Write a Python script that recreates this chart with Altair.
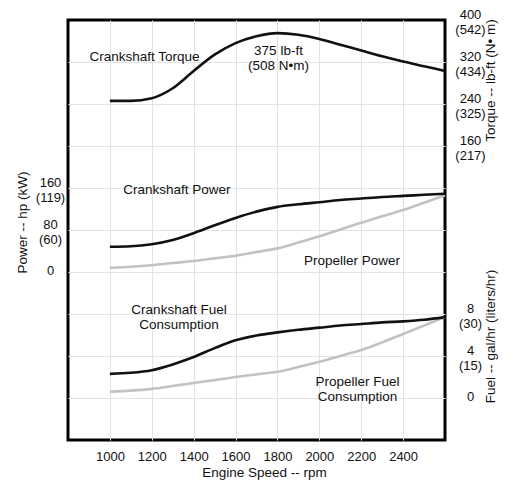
import altair as alt
import pandas as pd

# ---- data ----
rpm = [1000, 1100, 1200, 1300, 1400, 1500, 1600, 1700, 1800,
       1900, 2000, 2100, 2200, 2300, 2400, 2500, 2600]
torque_lbft = [246, 246, 251, 270, 303, 334, 356, 369, 375,
               372, 364, 353, 342, 331, 321, 312, 303]
crank_power_hp = [48, 49, 53, 61, 74, 89, 103, 115, 124,
                  129, 133, 137, 140, 143, 145, 147, 149]
prop_power_hp = [8, 10, 13, 17, 21, 26, 31, 38, 45,
                 56, 68, 81, 94, 106, 118, 132, 146]
crank_fuel_gph = [2.3, 2.4, 2.65, 3.2, 3.9, 4.75, 5.5, 5.95, 6.25,
                  6.5, 6.7, 6.9, 7.05, 7.2, 7.3, 7.45, 7.7]
prop_fuel_gph = [0.6, 0.7, 0.87, 1.15, 1.43, 1.7, 2.0, 2.25, 2.5,
                 2.95, 3.45, 4.0, 4.57, 5.3, 6.1, 6.9, 7.7]

x_ticks = [1000, 1200, 1400, 1600, 1800, 2000, 2200, 2400]
power_ticks = [0, 80, 160]
power_ticks_kw = ["", "(60)", "(119)"]
power_grid = [-240, -160, -80, 0, 80, 160, 240, 320, 400]
torque_ticks = [160, 240, 320, 400]
torque_ticks_nm = ["(217)", "(325)", "(434)", "(542)"]
fuel_ticks = [0, 4, 8]
fuel_ticks_l = ["", "(15)", "(30)"]

# annotations (data coordinates of the first text line)
torque_notes = ["Crankshaft Torque", "375 lb-ft\n(508 N\u2022m)"]
torque_notes_rpm = [1165, 1805]
torque_notes_val = [330, 341]
power_notes = ["Crankshaft Power", "Propeller Power"]
power_notes_rpm = [1320, 2156]
power_notes_val = [156, 21]
fuel_notes = ["Crankshaft Fuel\nConsumption", "Propeller Fuel\nConsumption"]
fuel_notes_rpm = [1330, 2182]
fuel_notes_val = [8.4, 1.5]

FONT = "Liberation Sans"
SERIES = ["Crankshaft", "Propeller"]
COLORS = ["#111111", "#c2c2c2"]


def label_expr(vals, subs):
    expr = "''"
    for v, s in zip(vals, subs):
        lab = f"['{v}','{s}']" if s else f"'{v}'"
        expr = f"datum.value == {v} ? {lab} : ({expr})"
    return expr


n = len(rpm)
color = alt.Color("series:N", scale=alt.Scale(domain=SERIES, range=COLORS), legend=None)

X = alt.X("rpm:Q", scale=alt.Scale(domain=[800, 2600], nice=False, zero=False),
          axis=alt.Axis(values=x_ticks, grid=True, title="Engine Speed -- rpm",
                        format="d", labelPadding=10, labelFlush=False, labelOverlap=False,
                        titleX=196, titleY=36, titleBaseline="alphabetic",
                        titleAlign="center"))


def y_enc(domain, orient, values, expr, title, title_x, title_y, grid, pad):
    return alt.Y("value:Q", scale=alt.Scale(domain=domain, nice=False, zero=False),
                 axis=alt.Axis(orient=orient, values=values, grid=grid, labelExpr=expr,
                               labelAlign="center", labelBaseline="middle",
                               labelPadding=pad, labelLineHeight=15,
                               labelOffset={"condition": {"test": "datum.value == 0", "value": -2},
                                            "value": -6},
                               labelOverlap=False, labelFlush=False,
                               title=title, titleAngle=270, titleX=title_x, titleY=title_y,
                               titleAlign="center", titleBaseline="middle"))


def panel(df, notes_df, yenc):
    lines = alt.Chart(df).mark_line(strokeWidth=2.6, interpolate="monotone").encode(
        x=X, y=yenc, color=color)
    text = alt.Chart(notes_df).mark_text(
        fontSize=13.5, align="center", baseline="middle", lineBreak="\n",
        lineHeight=15, color="#111111", font=FONT).encode(x=X, y=yenc, text="label:N")
    return alt.layer(lines, text)


power_df = pd.DataFrame({"rpm": rpm * 2, "value": prop_power_hp + crank_power_hp,
                         "series": [SERIES[1]] * n + [SERIES[0]] * n})
torque_df = pd.DataFrame({"rpm": rpm, "value": torque_lbft, "series": [SERIES[0]] * n})
fuel_df = pd.DataFrame({"rpm": rpm * 2, "value": prop_fuel_gph + crank_fuel_gph,
                        "series": [SERIES[1]] * n + [SERIES[0]] * n})

power_panel = panel(
    power_df,
    pd.DataFrame({"rpm": power_notes_rpm, "value": power_notes_val, "label": power_notes}),
    y_enc([-320, 480], "left", power_grid, label_expr(power_ticks, power_ticks_kw),
          "Power -- hp (kW)", -46, 202, True, 18))
torque_panel = panel(
    torque_df,
    pd.DataFrame({"rpm": torque_notes_rpm, "value": torque_notes_val, "label": torque_notes}),
    y_enc([-400, 400], "right", torque_ticks, label_expr(torque_ticks, torque_ticks_nm),
          "Torque -- lb-ft (N\u2022 m)", 45, 60, False, 25))
fuel_panel = panel(
    fuel_df,
    pd.DataFrame({"rpm": fuel_notes_rpm, "value": fuel_notes_val, "label": fuel_notes}),
    y_enc([-4, 36], "right", fuel_ticks, label_expr(fuel_ticks, fuel_ticks_l),
          "Fuel -- gal/hr (liters/hr)", 45, 316, False, 25))

chart = alt.layer(power_panel, torque_panel, fuel_panel).resolve_scale(
    y="independent"
).properties(
    width=377, height=420,
    autosize=alt.AutoSizeParams(type="none"),
    padding={"left": 60, "top": 12, "right": 63, "bottom": 40},
    background="white",
).configure(font=FONT).configure_view(
    stroke="#000000", strokeWidth=3
).configure_axis(
    labelFont=FONT, titleFont=FONT, labelFontSize=13, titleFontSize=13.5,
    labelColor="#111111", titleColor="#111111", titleFontWeight="normal",
    domain=False, ticks=False, gridColor="#e3e3e3", gridWidth=1,
)

chart.save("out.html", embed_options={"renderer": "svg", "actions": False})
